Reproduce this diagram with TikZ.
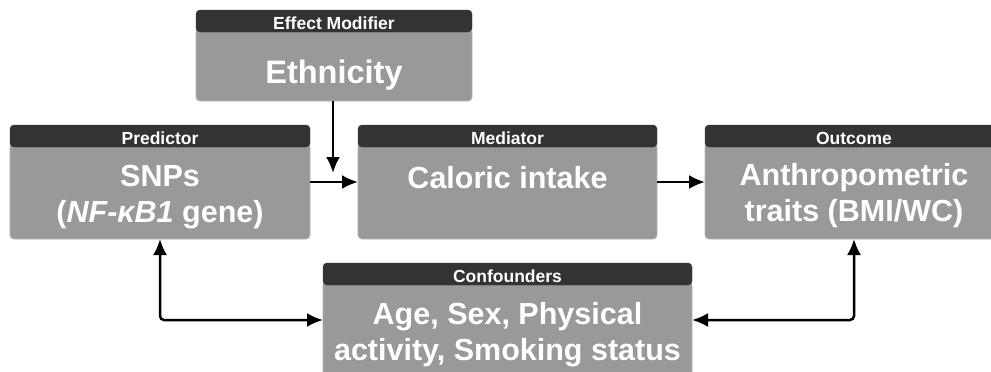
\documentclass[tikz,border=0pt]{standalone}
\usepackage{fontspec}
\setmainfont{Liberation Sans}
\usepackage{tikz}
\usetikzlibrary{positioning}
\usetikzlibrary{arrows.meta}
\definecolor{headgray}{HTML}{333333}
\definecolor{bodygray}{HTML}{999999}
\definecolor{edgegray}{HTML}{B3B3B3}
\tikzstyle{boxbody}=[rectangle,rounded corners=4pt,fill=bodygray,draw=edgegray,line width=0.8pt,inner sep=0pt,outer sep=0pt]
\tikzstyle{boxhead}=[rectangle,rounded corners=4pt,fill=headgray,draw=headgray,text=white,font=\fontsize{17.5}{20}\selectfont\bfseries,minimum height=22pt,inner sep=0pt,outer sep=0pt,text height=16pt,text depth=0pt]
\tikzstyle{boxtext}=[text=white,font=\fontsize{30.5}{36}\selectfont\bfseries,align=center,inner sep=0pt]
\tikzstyle{link}=[line width=2.5pt,-{Latex[length=16pt,width=14pt]}]
\tikzstyle{twolink}=[line width=2.5pt,rounded corners=4pt,{Latex[length=16pt,width=14pt]}-{Latex[length=16pt,width=14pt]}]

\begin{document}
\begin{tikzpicture}[x=1pt,y=-1pt]
\useasboundingbox (0,0) rectangle (991,372);
% boxes
\node[boxbody,minimum width=276pt,minimum height=73pt] (ethbody) at (334,64.5) {};
\node[boxhead,minimum width=276pt,above=-4pt of ethbody] (ethhead) {Effect Modifier};
\node[boxtext,font=\fontsize{32.5}{38}\selectfont\bfseries,below=28pt of ethhead] (ethtext) {Ethnicity};

\node[boxbody,minimum width=300pt,minimum height=96pt] (predbody) at (160,191) {};
\node[boxhead,minimum width=300pt,above=-4pt of predbody] (predhead) {Predictor};
\node[boxtext,below=18pt of predhead] (predtext) {SNPs\\(\textit{NF-κB1} gene)};

\node[boxbody,minimum width=299pt,minimum height=96pt] (medbody) at (507.5,191) {};
\node[boxhead,minimum width=299pt,above=-4pt of medbody] (medhead) {Mediator};
\node[boxtext,below=19pt of medhead] (medtext) {Caloric intake};

\node[boxbody,minimum width=298pt,minimum height=96pt] (outbody) at (854,191) {};
\node[boxhead,minimum width=298pt,above=-4pt of outbody] (outhead) {Outcome};
\node[boxtext,below=16pt of outhead] (outtext) {Anthropometric\\traits (BMI/WC)};

\node[boxbody,minimum width=369pt,minimum height=108pt] (confbody) at (507.5,335) {};
\node[boxhead,minimum width=369pt,above=-4pt of confbody] (confhead) {Confounders};
\node[boxtext,below=17pt of confhead] (conftext) {Age, Sex, Physical\\activity, Smoking status};

% arrows
\coordinate (modpt) at (333,173);
\draw[link] (ethbody.south -| modpt) -- (modpt);
\draw[link] ([yshift=9pt]predbody.east) -- ([yshift=9pt]medbody.west);
\draw[link] ([yshift=9pt]medbody.east) -- ([yshift=9pt]outbody.west);

\draw[twolink] (predbody.south) |- ([yshift=15pt]confbody.west);
\draw[twolink] (outbody.south) |- ([yshift=15pt]confbody.east);

\end{tikzpicture}
\end{document}
